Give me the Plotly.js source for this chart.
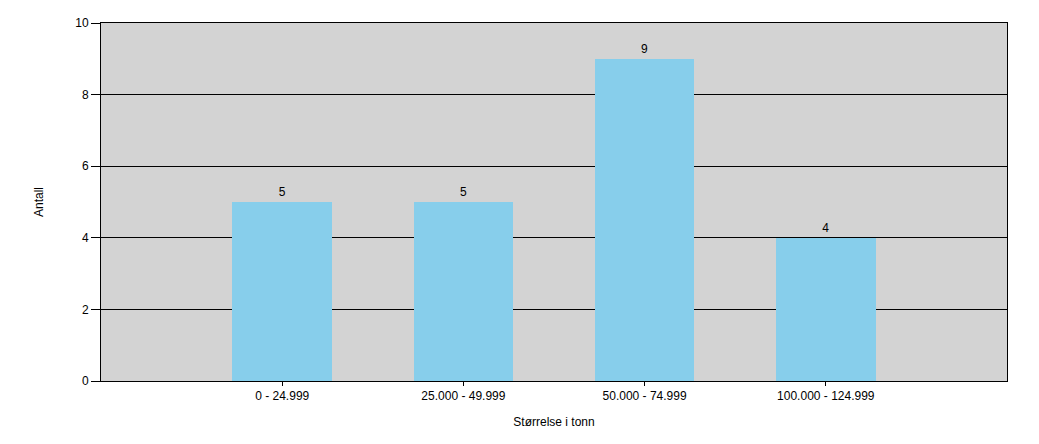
<!DOCTYPE html>
<html>
<head>
<meta charset="utf-8">
<script src="https://cdn.plot.ly/plotly-3.0.1.min.js"></script>
<style>html,body{margin:0;padding:0;background:#fff;}#chart{width:1039px;height:444px;}</style>
</head>
<body>
<div id="chart"></div>
<script>
const categories = ["0 - 24.999", "25.000 - 49.999", "50.000 - 74.999", "100.000 - 124.999"];
const counts = [5, 5, 9, 4];
const yTicks = [0, 2, 4, 6, 8, 10];
const xTitle = "Størrelse i tonn";
const yTitle = "Antall";

const font = {family: "Arial, 'Liberation Sans', sans-serif", size: 12, color: "#000"};

Plotly.newPlot("chart", [{
  type: "bar",
  x: categories,
  y: counts,
  width: 0.55,
  marker: {color: "#87CEEB", line: {width: 0}},
  text: counts.map(String),
  textposition: "outside",
  textfont: font,
  cliponaxis: false,
  hoverinfo: "none"
}], {
  width: 1039, height: 444,
  margin: {l: 101, r: 32, t: 23, b: 63},
  paper_bgcolor: "#ffffff",
  plot_bgcolor: "#D3D3D3",
  font: font,
  showlegend: false,
  bargap: 0,
  xaxis: {
    type: "category",
    range: [-1, 4],
    showline: true, linecolor: "#000", linewidth: 1, mirror: true,
    showgrid: false, zeroline: false,
    ticks: "outside", ticklen: 4, tickcolor: "#000", tickwidth: 1,
    tickfont: font,
    title: {text: xTitle, font: font, standoff: 15}
  },
  yaxis: {
    range: [0, 10],
    tickvals: yTicks,
    showline: true, linecolor: "#000", linewidth: 1, mirror: true,
    showgrid: true, gridcolor: "#000", gridwidth: 1,
    zeroline: false,
    ticks: "outside", ticklen: 9, tickcolor: "#000", tickwidth: 1,
    tickfont: font,
    title: {text: yTitle, font: font, standoff: 29}
  }
}, {displayModeBar: false, staticPlot: true});
</script>
</body>
</html>
